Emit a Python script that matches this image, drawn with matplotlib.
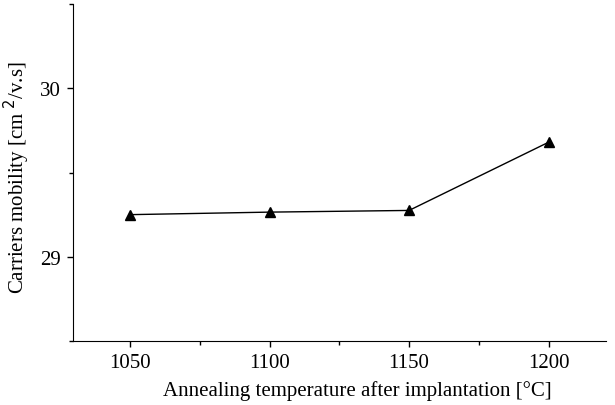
import matplotlib
matplotlib.use("Agg")
import matplotlib.pyplot as plt
from matplotlib.ticker import MultipleLocator

temps = [1050, 1100, 1150, 1200]
mobility = [29.25, 29.265, 29.275, 29.68]
xticks = [1050, 1100, 1150, 1200]
yticks = [29, 30]

plt.rcParams['font.family'] = ['Liberation Serif', 'DejaVu Serif']

fig = plt.figure(figsize=(6.15, 4.06), dpi=100)
ax = fig.add_axes([0.1187, 0.1576, 0.866, 0.830])
ax.plot(temps, mobility, color='black', lw=1.0, marker='^', ms=7, mfc='black', mec='black')
ax.set_xlim(1029.6, 1220.4)
ax.set_ylim(28.5, 30.5)
ax.set_xticks(xticks)
ax.set_yticks(yticks)
ax.xaxis.set_minor_locator(MultipleLocator(25))
ax.yaxis.set_minor_locator(MultipleLocator(0.5))
for s in ['top', 'right']:
    ax.spines[s].set_visible(False)
ax.tick_params(direction='out', length=4.5, width=1, labelsize=15, pad=4)
ax.tick_params(which='minor', direction='out', length=3, width=1)
ax.set_xlabel('Annealing temperature after implantation [°C]', fontsize=15)
ax.set_ylabel('Carriers mobility [cm$^{\\ 2}$/v.s]', fontsize=15)
ax.xaxis.set_label_coords(0.534, -0.117)
ax.yaxis.set_label_coords(-0.077, 0.487)
fig.savefig('out.png', dpi=100)
